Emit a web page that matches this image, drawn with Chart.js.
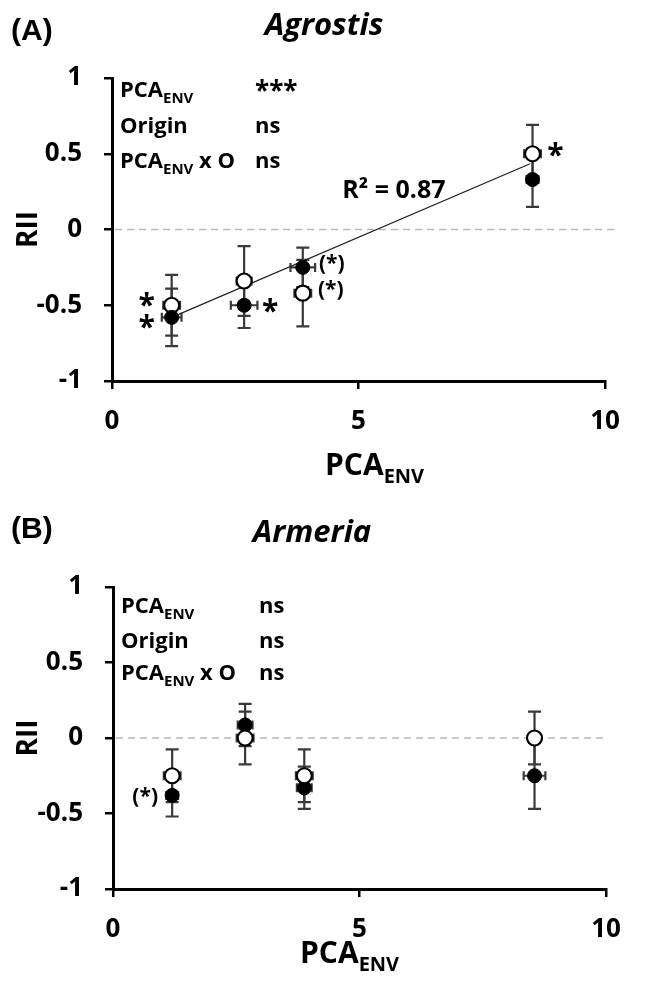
<!DOCTYPE html>
<html><head><meta charset="utf-8">
<script src="https://cdn.jsdelivr.net/npm/chart.js@4.4.1/dist/chart.umd.min.js"></script>
<style>
html,body{margin:0;padding:0;background:#fff;}
#wrapA{position:absolute;left:0;top:0;width:656px;height:490px;}
#wrapB{position:absolute;left:0;top:490px;width:656px;height:491px;}
</style></head><body>
<div id="wrapA"><canvas id="cA"></canvas></div>
<div id="wrapB"><canvas id="cB"></canvas></div>
<script>
// ---- Panel A: Agrostis ----
const xA        = [1.21, 2.68, 3.87, 8.53];
const xErrOpenA = [0.17, 0.15, 0.17, 0.17];
const xErrFillA = [0.20, 0.27, 0.25, 0.12];
const openA     = [-0.50, -0.34, -0.42, 0.50];
const openErrA  = [0.20, 0.23, 0.22, 0.19];
const fillA     = [-0.58, -0.50, -0.25, 0.33];
const fillErrA  = [0.19, 0.15, 0.13, 0.18];
const trendXA   = [1.21, 8.48];
const trendYA   = [-0.58, 0.434];

// ---- Panel B: Armeria ----
const xB        = [1.20, 2.68, 3.88, 8.55];
const xErrOpenB = [0.17, 0.17, 0.17, 0.12];
const xErrFillB = [0.12, 0.15, 0.15, 0.22];
const openB     = [-0.25, 0.00, -0.25, 0.00];
const openErrB  = [0.175, 0.175, 0.175, 0.175];
const fillB     = [-0.38, 0.086, -0.33, -0.25];
const fillErrB  = [0.14, 0.14, 0.14, 0.22];

const xTicks = [0, 5, 10];
const yTicks = [-1, -0.5, 0, 0.5, 1];
const yTickLabels = ['-1', '-0.5', '0', '0.5', '1'];

const statsA = [['***'], ['ns'], ['ns']];
const statsB = [['ns'], ['ns'], ['ns']];

const FONT = '"Open Sans", "DejaVu Sans", sans-serif';

function pts(xs, ys){ return xs.map((x,i)=>({x:x, y:ys[i]})); }

function drawSub(ctx, x, y, main, sub, size){
  ctx.font = 'bold ' + size + 'px ' + FONT;
  ctx.fillText(main, x, y);
  let w = ctx.measureText(main).width;
  const ss = Math.round(size*0.68);
  ctx.font = 'bold ' + ss + 'px ' + FONT;
  ctx.fillText(sub, x + w, y + size*0.28);
  return x + w + ctx.measureText(sub).width;
}

function makeChart(id, cfg){
  const errPlugin = {
    id: 'extras_' + id,
    beforeDatasetsDraw(chart){
      const ctx = chart.ctx, xs = chart.scales.x, ys = chart.scales.y, ca = chart.chartArea;
      ctx.save();
      ctx.strokeStyle = '#b8b8b8'; ctx.lineWidth = 1.6; ctx.setLineDash([7,5]);
      const y0 = ys.getPixelForValue(0);
      ctx.beginPath(); ctx.moveTo(ca.left+3, y0); ctx.lineTo(ca.right + cfg.zeroExt, y0); ctx.stroke();
      ctx.setLineDash([]);
      ctx.strokeStyle = '#3a3a3a'; ctx.lineWidth = 2.2;
      const series = [[cfg.x, cfg.open, cfg.openErr, cfg.xErrOpen],[cfg.x, cfg.fill, cfg.fillErr, cfg.xErrFill]];
      series.forEach(s=>{
        s[0].forEach((xv,i)=>{
          const yv = s[1][i], ye = s[2][i], xe = s[3][i];
          const px = xs.getPixelForValue(xv), py = ys.getPixelForValue(yv);
          const t = ys.getPixelForValue(yv+ye), b = ys.getPixelForValue(yv-ye);
          ctx.beginPath();
          ctx.moveTo(px, t); ctx.lineTo(px, b);
          ctx.moveTo(px-6.5, t); ctx.lineTo(px+6.5, t);
          ctx.moveTo(px-6.5, b); ctx.lineTo(px+6.5, b);
          const l = xs.getPixelForValue(xv-xe), r = xs.getPixelForValue(xv+xe);
          ctx.moveTo(l, py); ctx.lineTo(r, py);
          ctx.moveTo(l, py-4.5); ctx.lineTo(l, py+4.5);
          ctx.moveTo(r, py-4.5); ctx.lineTo(r, py+4.5);
          ctx.stroke();
        });
      });
      ctx.restore();
    },
    afterDraw(chart){
      const ctx = chart.ctx, xs = chart.scales.x, ys = chart.scales.y, ca = chart.chartArea;
      ctx.save();
      ctx.fillStyle = '#000';
      ctx.textBaseline = 'alphabetic';
      ctx.textAlign = 'left';
      ctx.font = 'bold 30px "Liberation Sans", Arial, sans-serif';
      ctx.fillText(cfg.letter, 11, cfg.letterY);
      ctx.textAlign = 'center';
      ctx.font = 'italic bold 31px ' + FONT;
      ctx.fillText(cfg.title, cfg.titleX, cfg.titleY);
      ctx.save();
      ctx.translate(cfg.rIIx, ys.getPixelForValue(0));
      ctx.rotate(-Math.PI/2);
      ctx.textAlign = 'center'; ctx.textBaseline = 'middle';
      ctx.font = 'bold 28px ' + FONT;
      ctx.fillText('RII', 0, 0);
      ctx.restore();
      ctx.textAlign = 'left';
      drawSub(ctx, cfg.xTitleX, cfg.xTitleY, 'PCA', 'ENV', 30);
      const bx = ca.left + 8;
      cfg.lineY.forEach((dy, k)=>{
        const by = ca.top + dy;
        if (k === 0) drawSub(ctx, bx, by, 'PCA', 'ENV', 22);
        if (k === 1){ ctx.font = 'bold 22px ' + FONT; ctx.fillText('Origin', bx, by); }
        if (k === 2){ const e = drawSub(ctx, bx, by, 'PCA', 'ENV', 22); ctx.font = 'bold 22px ' + FONT; ctx.fillText(' x O', e, by); }
        ctx.font = 'bold 22px ' + FONT;
        const txt = cfg.stats[k][0];
        if (txt === '***'){ ctx.font = 'bold 26px ' + FONT; ctx.fillText(txt, cfg.statX, by + 3); }
        else ctx.fillText(txt, cfg.statX, by);
      });
      if (cfg.r2){
        ctx.font = 'bold 25px ' + FONT;
        ctx.fillText('R² = 0.87', xs.getPixelForValue(cfg.r2[0]), ys.getPixelForValue(cfg.r2[1]));
      }
      ctx.textAlign = 'center'; ctx.textBaseline = 'middle';
      cfg.marks.forEach(m=>{
        const px = xs.getPixelForValue(m.x) + m.dx, py = ys.getPixelForValue(m.y) + m.dy;
        ctx.font = 'bold ' + (m.t === '*' ? 30 : 21) + 'px ' + FONT;
        ctx.fillText(m.t, px, py + (m.t === '*' ? 7 : 0));
      });
      ctx.restore();
    }
  };

  const datasets = [];
  const openDs = {label:'open', data: pts(cfg.x, cfg.open), backgroundColor:'#fff', borderColor:'#000', borderWidth:2.2, pointRadius:7.5, pointHoverRadius:7.5};
  const fillDs = {label:'filled', data: pts(cfg.x, cfg.fill), backgroundColor:'#000', borderColor:'#000', borderWidth:1, pointRadius:7, pointHoverRadius:7};
  if (cfg.openOnTop){ datasets.push(openDs, fillDs); } else { datasets.push(fillDs, openDs); }
  if (cfg.trendX){
    datasets.push({type:'line', label:'trend', data: pts(cfg.trendX, cfg.trendY), borderColor:'#222', borderWidth:1.3, pointRadius:0, fill:false});
  }

  return new Chart(document.getElementById(id), {
    type: 'scatter',
    data: { datasets },
    options: {
      responsive: true, maintainAspectRatio: false, animation: false,
      events: [],
      layout: { padding: { top: cfg.padTop, right: cfg.padRight, left: 0, bottom: 0 } },
      plugins: { legend: {display:false}, tooltip: {enabled:false}, title:{display:false} },
      scales: {
        x: {
          type: 'linear', min: 0, max: 10,
          afterBuildTicks: s => { s.ticks = xTicks.map(v=>({value:v})); },
          afterFit: s => { s.height = cfg.xH; },
          grid: { display:true, drawOnChartArea:false, drawTicks:true, tickLength:8, color:'#000', lineWidth:2.5 },
          border: { display:true, color:'#000', width:3 },
          ticks: { color:'#000', padding: 17, maxRotation:0, font:{family:FONT, size:26, weight:'bold'}, callback: v => String(v) }
        },
        y: {
          type: 'linear', min: -1, max: 1,
          afterBuildTicks: s => { s.ticks = yTicks.map(v=>({value:v})); },
          afterFit: s => { s.width = cfg.yW; },
          grid: { display:true, drawOnChartArea:false, drawTicks:true, tickLength:8, color:'#000', lineWidth:2.5 },
          border: { display:true, color:'#000', width:3 },
          ticks: { color:'#000', padding: 22, font:{family:FONT, size:26, weight:'bold'},
                   callback: v => yTickLabels[yTicks.indexOf(v)] }
        }
      }
    },
    plugins: [errPlugin]
  });
}

makeChart('cA', {
  letter:'(A)', letterY:40, title:'Agrostis', titleX:324, titleY:35,
  rIIx: 29, xTitleX: 325, xTitleY: 475,
  padTop: 78, padRight: 51, xH: 109, yW: 112, zeroExt: 12,
  x: xA, open: openA, openErr: openErrA, xErrOpen: xErrOpenA,
  fill: fillA, fillErr: fillErrA, xErrFill: xErrFillA, openOnTop:false,
  trendX: trendXA, trendY: trendYA,
  lineY: [19, 55, 90], stats: statsA, statX: 255,
  r2: [4.67, 0.21],
  marks: [
    {t:'*', x:xA[3], y:openA[3], dx:23, dy:-4},
    {t:'*', x:xA[0], y:openA[0], dx:-25, dy:-6},
    {t:'*', x:xA[0], y:fillA[0], dx:-25, dy:4},
    {t:'*', x:xA[1], y:fillA[1], dx:26, dy:0},
    {t:'(*)', x:xA[2], y:fillA[2], dx:29, dy:-3},
    {t:'(*)', x:xA[2], y:openA[2], dx:28, dy:-3}
  ]
});

makeChart('cB', {
  letter:'(B)', letterY:48, title:'Armeria', titleX:312, titleY:52,
  rIIx: 29, xTitleX: 300, xTitleY: 473,
  padTop: 97, padRight: 50, xH: 92, yW: 113, zeroExt: 2,
  x: xB, open: openB, openErr: openErrB, xErrOpen: xErrOpenB,
  fill: fillB, fillErr: fillErrB, xErrFill: xErrFillB, openOnTop:true,
  lineY: [26, 61, 93], stats: statsB, statX: 259,
  marks: [
    {t:'(*)', x:xB[0], y:fillB[0], dx:-27, dy:2}
  ]
});
</script>
</body></html>
